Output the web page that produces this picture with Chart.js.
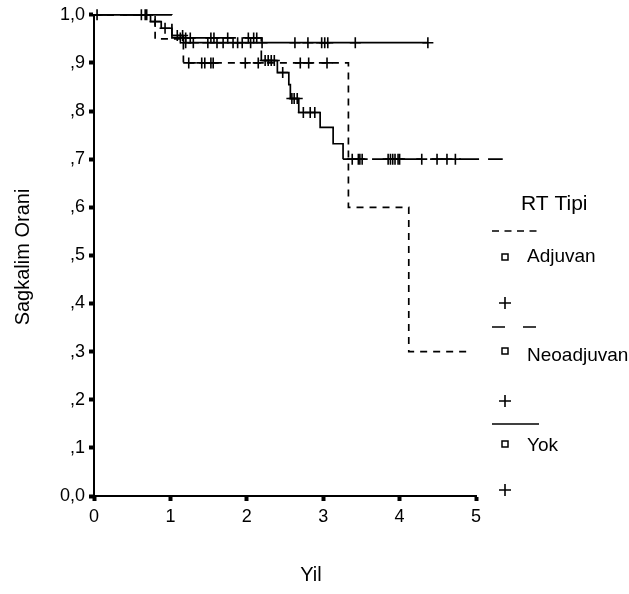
<!DOCTYPE html>
<html><head><meta charset="utf-8">
<script src="https://cdn.jsdelivr.net/npm/chart.js@4/dist/chart.umd.min.js"></script>
<style>html,body{margin:0;padding:0;background:#fff;}#wrap{width:629px;height:594px;position:relative;}</style>
</head><body><div id="wrap"><canvas id="c" width="629" height="594"></canvas></div>
<script>
// ---- data ----
const xTickValues = [0, 1, 2, 3, 4, 5];
const yTickValues = [0, 0.1, 0.2, 0.3, 0.4, 0.5, 0.6, 0.7, 0.8, 0.9, 1.0];
const yTickLabels = ['0,0', ',1', ',2', ',3', ',4', ',5', ',6', ',7', ',8', ',9', '1,0'];
const groups = ['Adjuvan', 'Neoadjuvan', 'Yok'];

const adjTimes = [0, 0.80, 1.17, 3.33, 4.12, 4.95];
const adjSurv  = [1.0, 0.95, 0.90, 0.60, 0.30, 0.30];
const adjCensor = [1.24, 1.41, 1.45, 1.53, 1.56, 1.98, 2.15, 2.70, 2.81, 3.05];

const neoTimes = [0, 1.02, 2.19, 2.40, 2.55, 2.57, 2.68, 2.96, 3.13, 3.26, 5.35];
const neoSurv  = [1.0, 0.952, 0.905, 0.88, 0.855, 0.826, 0.797, 0.766, 0.732, 0.70, 0.70];
const neoCensor = [0.62, 0.67, 0.69, 1.13, 1.20, 1.26, 1.53, 1.57, 1.75, 2.02, 2.09, 2.13,
  2.24, 2.28, 2.32, 2.36, 2.47, 2.59, 2.62, 2.66, 2.74, 2.83, 2.89,
  3.38, 3.46, 3.48, 3.51, 3.85, 3.88, 3.91, 3.94, 3.98, 4.00, 4.29, 4.49, 4.62, 4.73];

const yokTimes = [0, 0.74, 0.88, 1.02, 1.17, 4.37];
const yokSurv  = [1.0, 0.986, 0.972, 0.957, 0.942, 0.942];
const yokCensor = [0.04, 0.80, 0.93, 1.09, 1.16, 1.20, 1.30, 1.49, 1.61, 1.69, 1.82, 1.88, 1.94,
  2.05, 2.20, 2.63, 2.80, 2.98, 3.02, 3.06, 3.42, 4.37];

// ---- helpers ----
function curve(times, surv) { return times.map((t, i) => ({x: t, y: surv[i]})); }
function survAt(times, surv, t) {
  let s = surv[0];
  for (let i = 0; i < times.length; i++) { if (times[i] <= t) s = surv[i]; }
  return s;
}
function censorPts(cens, times, surv) { return cens.map(t => ({x: t, y: survAt(times, surv, t)})); }

const FONT = "'Liberation Sans', Arial, Helvetica, sans-serif";
const DASH_ADJ = [7, 6];
const DASH_NEO = [20, 9];
const LW = 1.7;

function lineDs(label, times, surv, dash, longDash) {
  const ds = {type: 'line', label, data: curve(times, surv), stepped: true, borderColor: '#000',
    borderWidth: LW, borderDash: dash, pointRadius: 0, fill: false, clip: false, order: 2};
  if (longDash) {
    // long dashes restart on every long step, short steps look solid
    ds.segment = {borderDash: c => (c.p1.parsed.x - c.p0.parsed.x > 0.5 ? longDash : [])};
  }
  return ds;
}
function censDs(label, cens, times, surv) {
  return {type: 'scatter', label, data: censorPts(cens, times, surv), pointStyle: 'cross',
    pointRadius: 5.5, pointBorderWidth: 1.6, borderColor: '#000', backgroundColor: '#000',
    pointBorderColor: '#000', clip: false, showLine: false, order: 1};
}

const legendPlugin = {
  id: 'kmLegend',
  afterDraw(chart) {
    const ctx = chart.ctx;
    ctx.save();
    ctx.fillStyle = '#000'; ctx.strokeStyle = '#000';
    // axis titles
    ctx.font = '20px ' + FONT;
    ctx.textAlign = 'center'; ctx.textBaseline = 'middle';
    ctx.fillText('Yil', 311, 575);
    ctx.save(); ctx.translate(23, 257); ctx.rotate(-Math.PI / 2);
    ctx.fillText('Sagkalim Orani', 0, 0); ctx.restore();
    // legend title
    ctx.textAlign = 'left'; ctx.textBaseline = 'alphabetic';
    ctx.font = '21px ' + FONT;
    ctx.fillText('RT Tipi', 521, 210);
    // legend entries
    const rows = [
      {lineY: 231, dash: [7, 5.5], sqY: 257, txtY: 262, crossY: 303},
      {lineY: 327, dash: [13, 18], sqY: 351, txtY: 361, crossY: 401},
      {lineY: 424, dash: [], sqY: 444, txtY: 451, crossY: 490}
    ];
    rows.forEach((r, i) => {
      ctx.lineWidth = LW;
      ctx.setLineDash(r.dash);
      ctx.beginPath(); ctx.moveTo(492, r.lineY); ctx.lineTo(539, r.lineY); ctx.stroke();
      ctx.setLineDash([]);
      ctx.lineWidth = 1.5;
      ctx.strokeRect(502, r.sqY - 3, 6, 6);
      ctx.font = '19px ' + FONT;
      ctx.fillText(groups[i], 527, r.txtY);
      ctx.lineWidth = 1.6;
      ctx.beginPath();
      ctx.moveTo(499, r.crossY); ctx.lineTo(511, r.crossY);
      ctx.moveTo(505, r.crossY - 6); ctx.lineTo(505, r.crossY + 6);
      ctx.stroke();
    });
    ctx.restore();
  }
};

new Chart(document.getElementById('c'), {
  data: {
    datasets: [
      lineDs('Adjuvan', adjTimes, adjSurv, DASH_ADJ),
      lineDs('Neoadjuvan', neoTimes, neoSurv, [], DASH_NEO),
      lineDs('Yok', yokTimes, yokSurv, []),
      censDs('Adjuvan +', adjCensor, adjTimes, adjSurv),
      censDs('Neoadjuvan +', neoCensor, neoTimes, neoSurv),
      censDs('Yok +', yokCensor, yokTimes, yokSurv)
    ]
  },
  options: {
    responsive: false, animation: false, devicePixelRatio: 1,
    layout: {padding: {left: 0, top: 14, right: 153, bottom: 0}},
    plugins: {legend: {display: false}, tooltip: {enabled: false}, title: {display: false}},
    scales: {
      x: {
        type: 'linear', min: 0, max: 5,
        afterBuildTicks: s => { s.ticks = xTickValues.map(v => ({value: v})); },
        afterFit: s => { s.height = 98; },
        ticks: {color: '#000', font: {family: FONT, size: 18}, padding: 5, maxRotation: 0,
          callback: v => String(v)},
        grid: {display: true, drawOnChartArea: false, drawTicks: true, tickLength: 5,
          tickWidth: 4, color: '#000'},
        border: {display: true, color: '#000', width: 2}
      },
      y: {
        type: 'linear', min: 0, max: 1,
        afterBuildTicks: s => { s.ticks = yTickValues.map(v => ({value: v})); },
        afterFit: s => { s.width = 94; },
        ticks: {color: '#000', font: {family: FONT, size: 18}, padding: 4,
          callback: (v, i) => yTickLabels[i]},
        grid: {display: true, drawOnChartArea: false, drawTicks: true, tickLength: 5,
          tickWidth: 4, color: '#000'},
        border: {display: true, color: '#000', width: 2}
      }
    }
  },
  plugins: [legendPlugin]
});
</script></body></html>
